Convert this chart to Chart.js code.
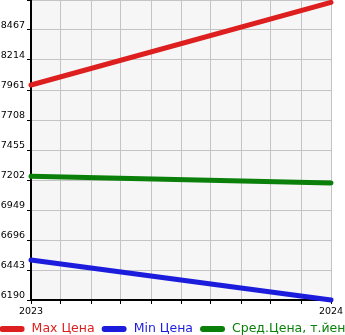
<!DOCTYPE html>
<html>
<head>
<meta charset="utf-8">
<script src="https://cdn.jsdelivr.net/npm/chart.js@4.4.0/dist/chart.umd.min.js"></script>
<style>
  html, body { margin: 0; padding: 0; background: #fff; }
  #wrap { width: 345px; height: 335px; position: relative; }
</style>
</head>
<body>
<div id="wrap"><canvas id="chart"></canvas></div>
<script>
// values
const years = [2023, 2024];
const maxPrice = [8003, 8700];
const minPrice = [6527, 6190];
const avgPrice = [7233, 7177];
const seriesNames = ["Max Цена", "Min Цена", "Сред.Цена, т.йен"];
const seriesColors = ["#dd1f1f", "#1c1cdc", "#0a800a"];

const yMin = 6190;
const yMax = 8720;
const yStep = 253;

const toPoints = (vals) => vals.map((v, i) => ({ x: years[i], y: v }));

// grey plot background
const plotBg = {
  id: "plotBg",
  beforeDraw(chart) {
    const { ctx, chartArea: a } = chart;
    ctx.save();
    ctx.fillStyle = "#f6f6f6";
    ctx.fillRect(a.left, a.top, a.right - a.left, a.bottom - a.top);
    ctx.restore();
  },
};

// legend drawn by hand so it can overflow the canvas like the original
const bottomLegend = {
  id: "bottomLegend",
  afterDraw(chart) {
    const ctx = chart.ctx;
    ctx.save();
    ctx.font = "12.5px 'DejaVu Sans'";
    const markW = 25, gap = 7, itemGap = 7;
    const items = chart.data.datasets.map((ds) => ({
      text: ds.label,
      color: ds.borderColor,
      w: markW + gap + ctx.measureText(ds.label).width,
    }));
    const total = items.reduce((s, it) => s + it.w, 0) + itemGap * (items.length - 1);
    let x = (chart.width - total) / 2;
    const y = 329;
    items.forEach((it) => {
      ctx.strokeStyle = it.color;
      ctx.lineWidth = 6;
      ctx.lineCap = "round";
      ctx.beginPath();
      ctx.moveTo(x + 3, y);
      ctx.lineTo(x + markW - 3, y);
      ctx.stroke();
      ctx.fillStyle = it.color;
      ctx.textBaseline = "middle";
      ctx.textAlign = "left";
      ctx.fillText(it.text, x + markW + gap, y);
      x += it.w + itemGap;
    });
    ctx.restore();
  },
};

const mkSet = (label, vals, color) => ({
  label,
  data: toPoints(vals),
  borderColor: color,
  backgroundColor: color,
  borderWidth: 5,
  borderCapStyle: "round",
  pointRadius: 0,
  tension: 0,
  clip: false,
});

new Chart(document.getElementById("chart"), {
  type: "line",
  data: {
    datasets: [
      mkSet(seriesNames[0], maxPrice, seriesColors[0]),
      mkSet(seriesNames[1], minPrice, seriesColors[1]),
      mkSet(seriesNames[2], avgPrice, seriesColors[2]),
    ],
  },
  options: {
    responsive: true,
    maintainAspectRatio: false,
    animation: false,
    layout: { padding: { right: 14 } },
    plugins: {
      legend: { display: false },
      tooltip: { enabled: false },
    },
    scales: {
      x: {
        type: "linear",
        min: years[0],
        max: years[1],
        ticks: {
          stepSize: 0.1,
          autoSkip: false,
          maxRotation: 0,
          padding: 2,
          color: "#000",
          font: { family: "'DejaVu Sans'", size: 9.5 },
          callback: (v) => (Math.abs(v - Math.round(v)) < 1e-6 ? String(Math.round(v)) : ""),
        },
        grid: { color: "#c4c4c4", tickColor: "#000", tickLength: 4 },
        border: { color: "#000", width: 2 },
        afterFit: (s) => {
          s.height = 35;
          s.paddingLeft = 0;
          s.paddingRight = 0;
        },
      },
      y: {
        min: yMin,
        max: yMax,
        ticks: {
          stepSize: yStep,
          padding: 2,
          labelOffset: -4,
          color: "#000",
          font: { family: "'DejaVu Sans'", size: 9.5 },
          callback: (v) => (v >= yMax ? "" : String(v)),
        },
        grid: { color: "#c4c4c4", tickColor: "#000", tickLength: 4 },
        border: { color: "#000", width: 2 },
        afterFit: (s) => {
          s.width = 31;
          s.paddingTop = 0;
          s.paddingBottom = 0;
        },
      },
    },
  },
  plugins: [plotBg, bottomLegend],
});
</script>
</body>
</html>
